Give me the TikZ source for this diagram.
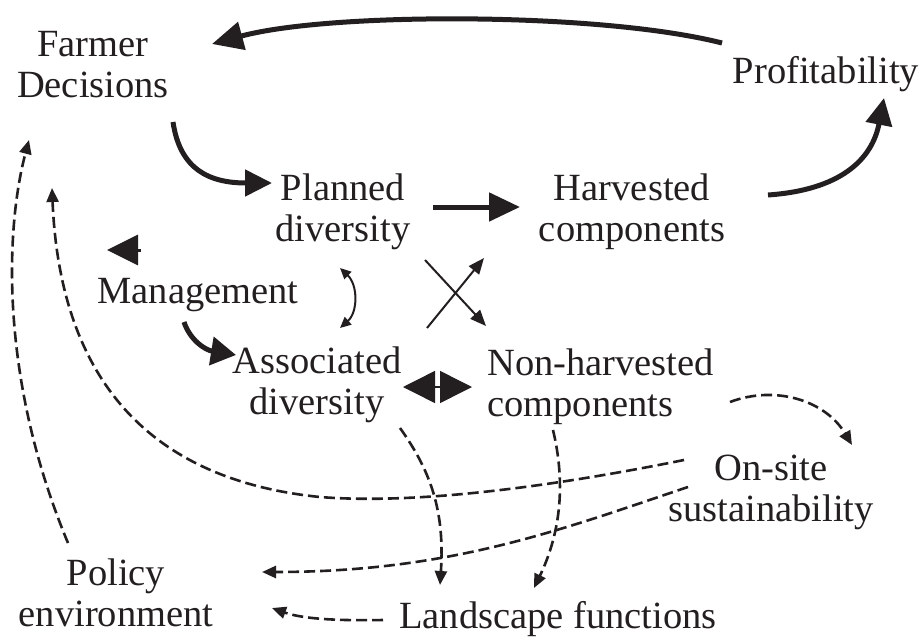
\documentclass[tikz,border=0pt]{standalone}
\usepackage{fontspec}
\setmainfont{Liberation Serif}
\usetikzlibrary{arrows.meta}
\definecolor{ink}{RGB}{35,31,32}
\begin{document}
\begin{tikzpicture}[x=1pt,y=-1pt,
  every node/.style={font=\fontsize{38.5}{41}\selectfont, text=ink, inner sep=0pt, align=center},
  bold/.style={draw=ink, line width=5pt, -{Triangle[length=31pt,width=28pt]}},
  thin/.style={draw=ink, line width=2pt, -{Triangle[length=13pt,width=11pt]}},
  dashlink/.style={draw=ink, line width=2.6pt, dash pattern=on 11pt off 5pt, -{Triangle[length=14pt,width=12pt]}}]
\useasboundingbox (0,0) rectangle (923,637);

% concept labels
\node (farmer)  at (93,65)   {Farmer\\Decisions};
\node (profit)  at (826,74)  {Profitability};
\node (planned) at (343,212) {Planned\\diversity};
\node (harv)    at (632,212) {Harvested\\components};
\node (mgmt)    at (198,295) {Management};
\node (assoc)   at (317,385) {Associated\\diversity};
\node[align=left, anchor=west] (nonharv) at (487,387) {Non-harvested\\components};
\node (onsite)  at (771,492) {On-site\\sustainability};
\node (policy)  at (116,593) {Policy\\environment};
\node (land)    at (558,619) {Landscape functions};

% connector end points
\coordinate (a1) at (722,43);   \coordinate (b1) at (212,44);
\coordinate (a2) at (173,122);  \coordinate (b2) at (272,183);
\coordinate (a3) at (433,207);  \coordinate (b3) at (520,207);
\coordinate (a4) at (768,195);  \coordinate (b4) at (884,98);
\coordinate (a5) at (141,250);  \coordinate (b5) at (107,250);
\coordinate (a6) at (184,322);  \coordinate (b6) at (236,355);
\coordinate (a7) at (340,268);  \coordinate (b7) at (340,328);
\coordinate (a8) at (425,260);  \coordinate (b8) at (486,326);
\coordinate (a9) at (427,328);  \coordinate (b9) at (484,258);
\coordinate (a10) at (403,387); \coordinate (b10) at (472,387);
\coordinate (a11) at (730,402); \coordinate (b11) at (852,445);
\coordinate (a12) at (684,460); \coordinate (m12) at (320,497); \coordinate (b12) at (52,188);
\coordinate (a13) at (68,543);  \coordinate (b13) at (29,140);
\coordinate (a14) at (688,487); \coordinate (b14) at (262,572);
\coordinate (a15) at (383,620); \coordinate (b15) at (272,608);
\coordinate (a16) at (400,428); \coordinate (b16) at (440,585);
\coordinate (a17) at (553,430); \coordinate (b17) at (534,588);

% main solid flows
\draw[bold] (a1) .. controls (600,12) and (330,12) .. (b1);
\draw[bold, -{Triangle[length=27pt,width=26pt]}] (a2) .. controls (180,170) and (210,183) .. (b2);
\draw[bold] (a3) -- (b3);
\draw[bold, -{Triangle[length=27pt,width=26pt]}] (a4) .. controls (840,190) and (872,160) .. (b4);
\draw[bold, line width=3pt, -{Triangle[length=31pt,width=30pt]}] (a5) -- (b5);
\draw[bold, -{Triangle[length=25pt,width=28pt]}] (a6) .. controls (190,340) and (205,350) .. (b6);

% thin solid links
\draw[thin, {Triangle[length=11pt,width=10pt]}-{Triangle[length=11pt,width=10pt]}] (a7) .. controls (358,285) and (358,312) .. (b7);
\draw[thin, -{Triangle[length=16pt,width=13pt]}] (a8) -- (b8);
\draw[thin, -{Triangle[length=16pt,width=13pt]}] (a9) -- (b9);
\draw[draw=ink, line width=1.5pt, {Triangle[length=32pt,width=32pt]}-{Triangle[length=32pt,width=32pt]}] (a10) -- (b10);

% dashed feedbacks
\draw[dashlink] (a11) .. controls (775,385) and (825,400) .. (b11);
\draw[dashlink] (a12) .. controls (560,485) and (420,505) .. (m12)
                      .. controls (150,480) and (60,380) .. (b12);
\draw[dashlink] (a13) .. controls (0,380) and (5,230) .. (b13);
\draw[dashlink] (a14) .. controls (560,530) and (450,572) .. (b14);
\draw[dashlink] (a15) .. controls (330,621) and (300,618) .. (b15);
\draw[dashlink] (a16) .. controls (430,470) and (445,510) .. (b16);
\draw[dashlink] (a17) .. controls (565,480) and (562,530) .. (b17);
\end{tikzpicture}
\end{document}
